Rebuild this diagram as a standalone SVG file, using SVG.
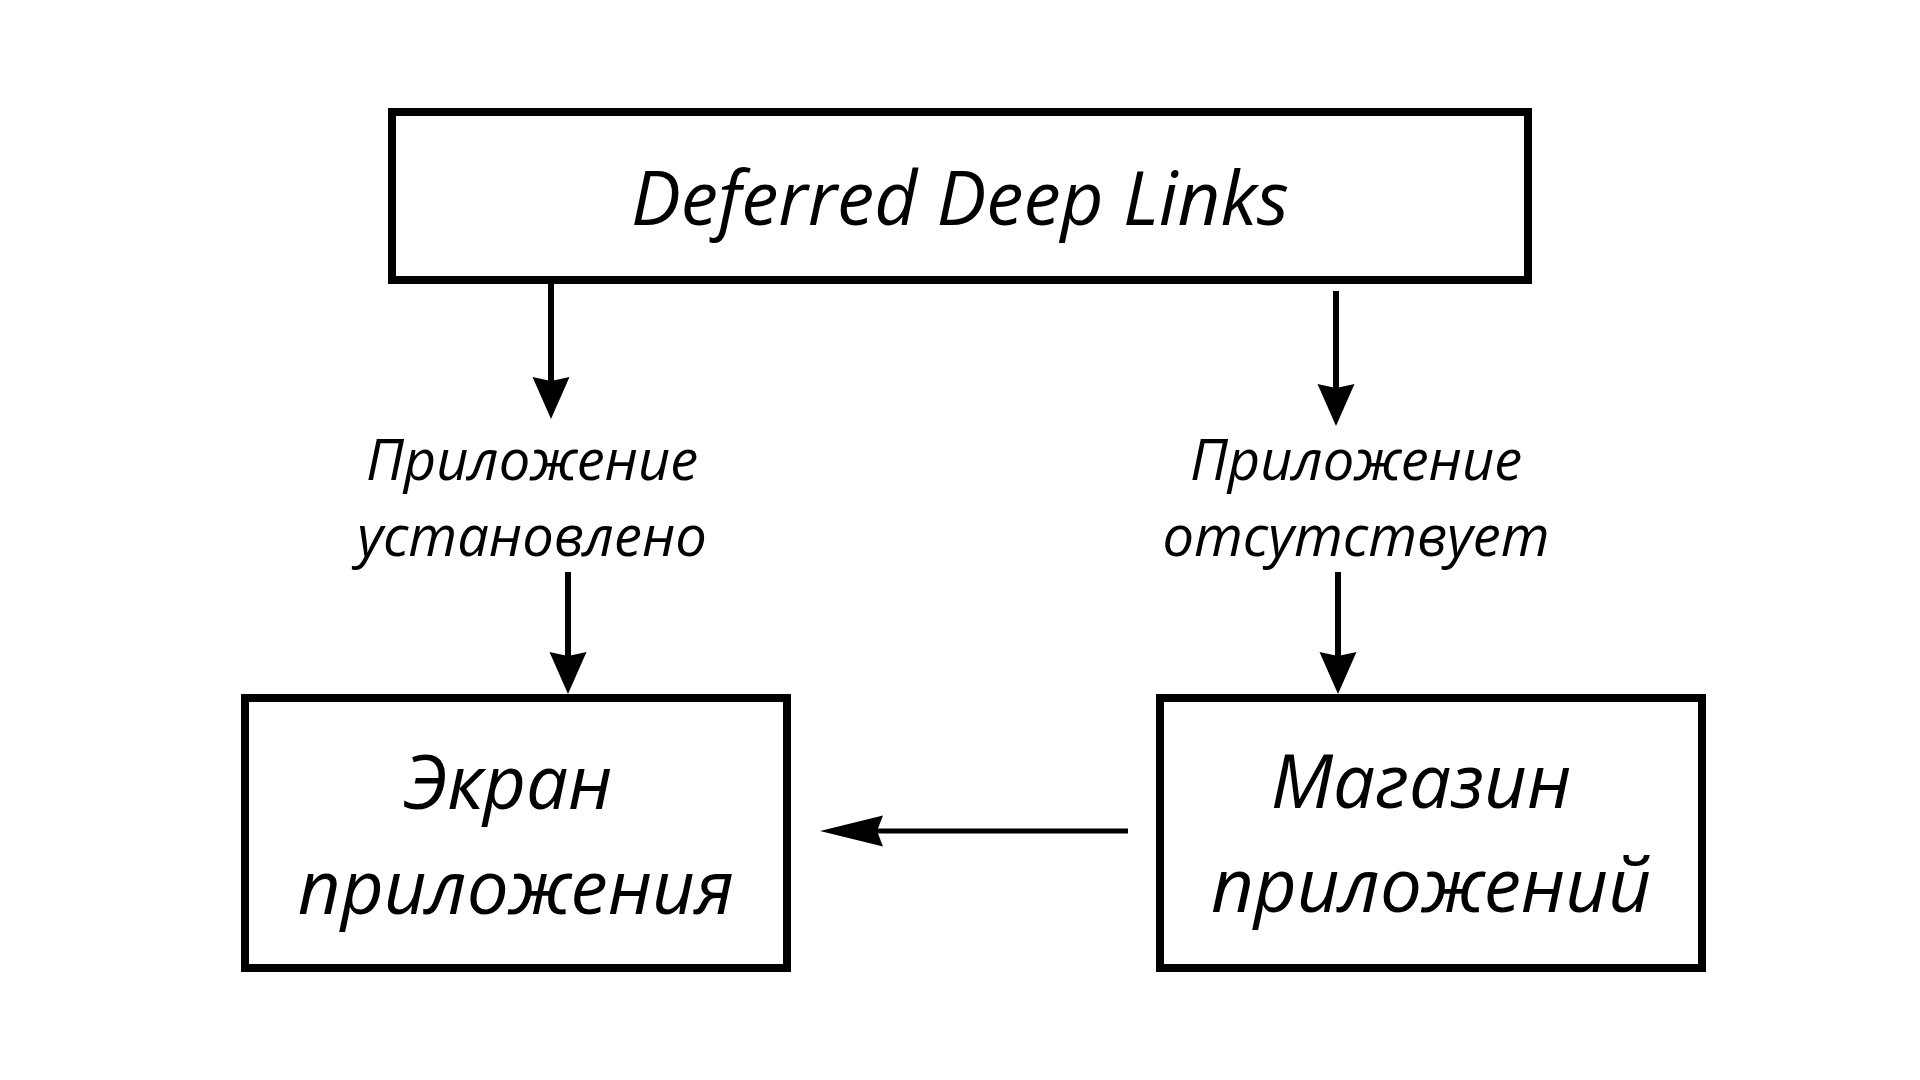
<svg xmlns="http://www.w3.org/2000/svg" width="1920" height="1080" viewBox="0 0 1920 1080">
<style>
  .box { fill: #ffffff; stroke: #000000; stroke-width: 8; }
  .t { font-family: "Open Sans", "Noto Sans", "DejaVu Sans", sans-serif; font-style: italic; fill: #000000; text-anchor: middle; }
  .big { font-size: 74.5px; }
  .lbl { font-size: 56px; }
  .v { stroke: #000000; stroke-width: 6; fill: none; marker-end: url(#headV); }
  .h { stroke: #000000; stroke-width: 5; fill: none; marker-end: url(#headH); }
</style>
<defs>
  <marker id="headV" markerUnits="userSpaceOnUse" viewBox="0 -20 44 40" markerWidth="44" markerHeight="40" refX="4" refY="0" orient="auto">
    <path d="M0,-18.5 L42,0 L0,18.5 L4,0 Z" fill="#000000"/>
  </marker>
  <marker id="headH" markerUnits="userSpaceOnUse" viewBox="0 -17 64 34" markerWidth="64" markerHeight="34" refX="6" refY="0" orient="auto">
    <path d="M0,-15.5 L63,0 L0,15.5 L6,0 Z" fill="#000000"/>
  </marker>
</defs>
<rect width="1920" height="1080" fill="#ffffff"/>
<g id="connectors">
  <line class="v" x1="551" y1="280" x2="551" y2="381"/>
  <line class="v" x1="1336" y1="291" x2="1336" y2="388"/>
  <line class="v" x1="568" y1="572" x2="568" y2="656"/>
  <line class="v" x1="1338" y1="572" x2="1338" y2="656"/>
  <line class="h" x1="1128" y1="831" x2="877" y2="831"/>
</g>
<g id="node-deferred">
  <rect class="box" x="392" y="112" width="1136" height="168"/>
  <text class="t big" x="960" y="225">Deferred Deep Links</text>
</g>
<g id="label-installed">
  <text class="t lbl" x="532" y="480">Приложение</text>
  <text class="t lbl" x="532" y="556">установлено</text>
</g>
<g id="label-missing">
  <text class="t lbl" x="1356" y="480">Приложение</text>
  <text class="t lbl" x="1356" y="556">отсутствует</text>
</g>
<g id="node-app-screen">
  <rect class="box" x="245" y="698" width="542" height="270"/>
  <text class="t big" x="508" y="809">Экран</text>
  <text class="t big" x="516" y="914">приложения</text>
</g>
<g id="node-app-store">
  <rect class="box" x="1160" y="698" width="542" height="270"/>
  <text class="t big" x="1421" y="808">Магазин</text>
  <text class="t big" x="1431" y="912">приложений</text>
</g>
</svg>
